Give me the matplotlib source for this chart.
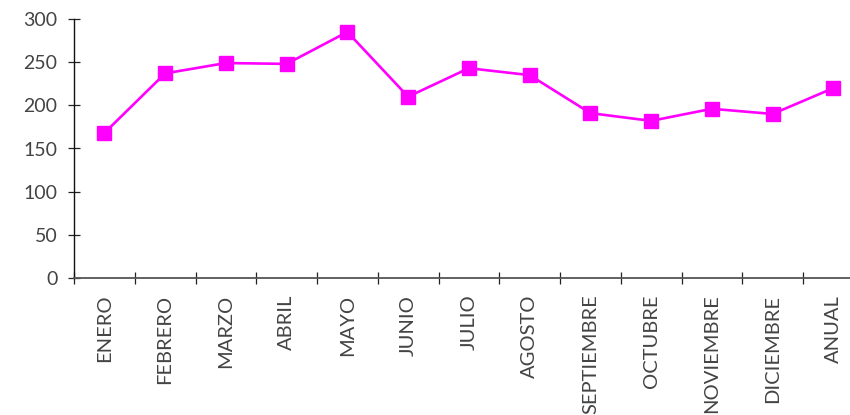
import matplotlib
matplotlib.use("Agg")
import matplotlib.pyplot as plt
from matplotlib.ticker import FixedLocator

months = ["ENERO", "FEBRERO", "MARZO", "ABRIL", "MAYO", "JUNIO", "JULIO",
          "AGOSTO", "SEPTIEMBRE", "OCTUBRE", "NOVIEMBRE", "DICIEMBRE", "ANUAL"]
values = [168, 237, 249, 248, 285, 210, 243, 235, 191, 182, 196, 190, 220]
y_ticks = [0, 50, 100, 150, 200, 250, 300]

plt.rcParams["font.family"] = ["Lato", "DejaVu Sans"]

fig = plt.figure(figsize=(8.5, 4.15), dpi=100)
ax = fig.add_axes([74 / 850, 137 / 415, 789.75 / 850, 259 / 415])

x = list(range(len(months)))
ax.plot(x, values, color="#FF00FF", lw=1.9, marker="s", markersize=10.3,
        markeredgecolor="#FF00FF", markerfacecolor="#FF00FF", zorder=3)

ax.set_xlim(-0.5, len(months) - 0.5)
ax.set_ylim(0, 300)
ax.set_yticks(y_ticks)
ax.set_yticklabels([str(v) for v in y_ticks], fontsize=14, color="#444444")

ax.set_xticks(x)
ax.set_xticklabels(months, rotation=90, fontsize=14.5, color="#444444",
                   va="top", ha="center")
ax.xaxis.set_minor_locator(FixedLocator([i - 0.5 for i in range(len(months) + 1)]))

ax.tick_params(axis="x", which="major", length=0, pad=12)
ax.tick_params(axis="x", which="minor", direction="inout", length=8.5,
               width=0.9, color="#222222")
ax.tick_params(axis="y", direction="inout", length=8, width=0.9,
               color="#222222", pad=8)

for side in ("top", "right"):
    ax.spines[side].set_visible(False)
ax.spines["left"].set_color("#111111")
ax.spines["left"].set_linewidth(1.0)
ax.spines["bottom"].set_color("#555555")
ax.spines["bottom"].set_linewidth(1.3)

fig.savefig("out.png", dpi=100, facecolor="white")
